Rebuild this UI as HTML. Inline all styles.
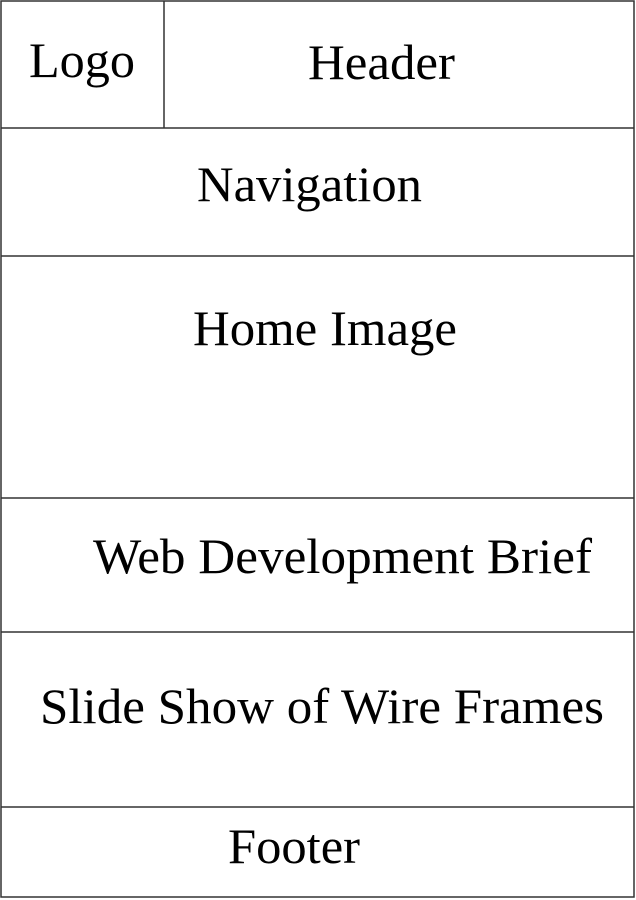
<!DOCTYPE html>
<html><head><style>html,body{margin:0;padding:0;background:#fff;}svg{display:block}text{font-family:"Liberation Serif","Times New Roman",serif;font-size:50px;}</style></head>
<body>
<svg width="636" height="900" xmlns="http://www.w3.org/2000/svg" fill="#000">
<g stroke="#333" stroke-width="1.5" fill="none">
<rect x="1" y="1" width="633" height="896"/>
<line x1="164" y1="1" x2="164" y2="128"/>
<line x1="1" y1="128" x2="634" y2="128"/>
<line x1="1" y1="256" x2="634" y2="256"/>
<line x1="1" y1="498" x2="634" y2="498"/>
<line x1="1" y1="632" x2="634" y2="632"/>
<line x1="1" y1="807" x2="634" y2="807"/>
</g>
<text x="29" y="77" textLength="106" lengthAdjust="spacingAndGlyphs">Logo</text>
<text x="308" y="79" textLength="147" lengthAdjust="spacingAndGlyphs">Header</text>
<text x="197" y="201" textLength="225" lengthAdjust="spacingAndGlyphs">Navigation</text>
<text x="193" y="345" textLength="264" lengthAdjust="spacingAndGlyphs">Home Image</text>
<text x="93" y="573" textLength="499" lengthAdjust="spacingAndGlyphs">Web Development Brief</text>
<text x="40" y="723" textLength="564" lengthAdjust="spacingAndGlyphs">Slide Show of Wire Frames</text>
<text x="228" y="863" textLength="132" lengthAdjust="spacingAndGlyphs">Footer</text>
</svg>
</body></html>
